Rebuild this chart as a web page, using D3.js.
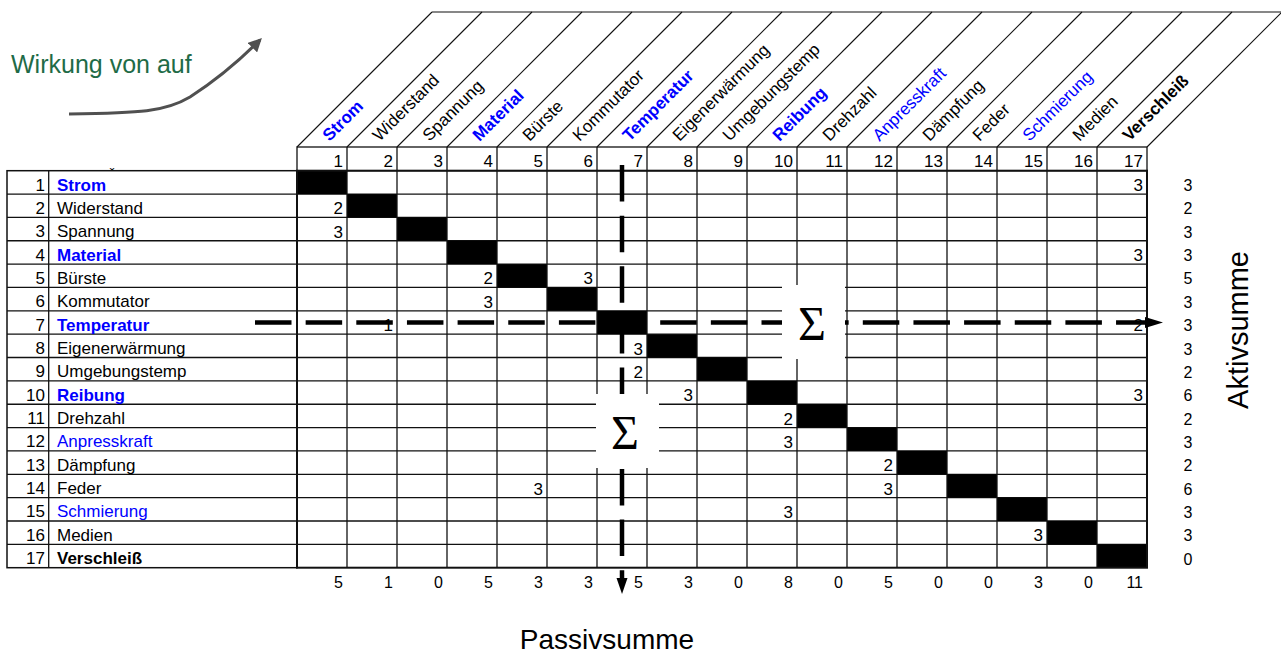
<!DOCTYPE html>
<html>
<head>
<meta charset="utf-8">
<script src="https://cdn.jsdelivr.net/npm/d3@7/dist/d3.min.js"></script>
<style>
  body { margin: 0; background: #fff; }
  svg { display: block; font-family: "Liberation Sans", Arial, sans-serif; }
</style>
</head>
<body>
<div id="chart"></div>
<script>
// Einflussmatrix: Wirkung von (Zeile) auf (Spalte)
var numbers = [1, 2, 3, 4, 5, 6, 7, 8, 9, 10, 11, 12, 13, 14, 15, 16, 17];
var factors = ["Strom", "Widerstand", "Spannung", "Material", "Bürste", "Kommutator",
               "Temperatur", "Eigenerwärmung", "Umgebungstemp", "Reibung", "Drehzahl",
               "Anpresskraft", "Dämpfung", "Feder", "Schmierung", "Medien", "Verschleiß"];
// [von, auf, Stärke]
var influences = [[1, 17, 3], [2, 1, 2], [3, 1, 3], [4, 17, 3], [5, 4, 2], [5, 6, 3],
                  [6, 4, 3], [7, 2, 1], [7, 17, 2], [8, 7, 3], [9, 7, 2], [10, 8, 3],
                  [10, 17, 3], [11, 10, 2], [12, 10, 3], [13, 12, 2], [14, 5, 3],
                  [14, 12, 3], [15, 10, 3], [16, 15, 3]];
var activeSums = [3, 2, 3, 3, 5, 3, 3, 3, 2, 6, 2, 3, 2, 6, 3, 3, 0];
var passiveSums = [5, 1, 0, 5, 3, 3, 5, 3, 0, 8, 0, 5, 0, 0, 3, 0, 11];

// Hervorhebung der Hauptgruppen
var groupStyle = {
    "Strom": "main", "Material": "main", "Temperatur": "main", "Reibung": "main",
    "Anpresskraft": "sub", "Schmierung": "sub", "Verschleiß": "target"
};

(function () {
    function labelFill(name) {
        var s = groupStyle[name];
        return (s === "main" || s === "sub") ? "#0000ff" : "#000";
    }
    function labelWeight(name) {
        var s = groupStyle[name];
        return (s === "main" || s === "target") ? "bold" : "normal";
    }

    var width = 1281, height = 655;
    var gridLeft = 297, gridRight = 1147, gridTop = 170.7, gridBottom = 567.7;
    var headTop = 147, slantTop = 12, slant = headTop - slantTop;
    var tableLeft = 7, numDivider = 48.7;
    var fontSize = 17;

    var x = d3.scaleBand().domain(numbers).range([gridLeft, gridRight]);
    var y = d3.scaleBand().domain(numbers).range([gridTop, gridBottom]);
    var bw = x.bandwidth(), bh = y.bandwidth();

    var svg = d3.select("#chart").append("svg")
        .attr("width", width)
        .attr("height", height);

    svg.append("rect").attr("width", width).attr("height", height).attr("fill", "#fff");

    // --- schräger Kopf ---
    var head = svg.append("g");
    var bounds = numbers.map(function (n) { return x(n); }).concat([gridRight]);
    head.selectAll("line.slant")
        .data(bounds)
        .enter().append("line")
        .attr("class", "slant")
        .attr("x1", function (d) { return d; })
        .attr("y1", headTop)
        .attr("x2", function (d) { return d + slant; })
        .attr("y2", slantTop)
        .attr("stroke", "#111")
        .attr("stroke-width", 1.1);
    head.append("line")
        .attr("x1", gridLeft + slant).attr("y1", slantTop)
        .attr("x2", gridRight + slant).attr("y2", slantTop)
        .attr("stroke", "#111").attr("stroke-width", 1.1);

    head.selectAll("text.colLabel")
        .data(numbers)
        .enter().append("text")
        .attr("class", "colLabel")
        .attr("transform", function (d) {
            return "translate(" + (x(d) + 32.5) + "," + 142 + ") rotate(-45)";
        })
        .attr("font-size", fontSize)
        .attr("fill", function (d) { return labelFill(factors[d - 1]); })
        .attr("font-weight", function (d) { return labelWeight(factors[d - 1]); })
        .text(function (d) { return factors[d - 1]; });

    // Nummernzeile
    head.append("rect")
        .attr("x", gridLeft).attr("y", headTop)
        .attr("width", gridRight - gridLeft).attr("height", gridTop - headTop)
        .attr("fill", "none").attr("stroke", "#111").attr("stroke-width", 1.3);
    head.selectAll("line.numDiv")
        .data(numbers.slice(1))
        .enter().append("line")
        .attr("x1", function (d) { return x(d); }).attr("x2", function (d) { return x(d); })
        .attr("y1", headTop).attr("y2", gridTop)
        .attr("stroke", "#111").attr("stroke-width", 1.3);
    head.selectAll("text.colNum")
        .data(numbers)
        .enter().append("text")
        .attr("x", function (d) { return x(d) + bw - 4; })
        .attr("y", 167)
        .attr("text-anchor", "end")
        .attr("font-size", fontSize)
        .text(function (d) { return d; });

    // --- linke Tabelle ---
    var tbl = svg.append("g");
    tbl.selectAll("line.rowLine")
        .data(numbers.slice(1))
        .enter().append("line")
        .attr("x1", tableLeft).attr("x2", gridRight)
        .attr("y1", function (d) { return y(d); }).attr("y2", function (d) { return y(d); })
        .attr("stroke", "#111").attr("stroke-width", 1.3);
    tbl.append("line")
        .attr("x1", numDivider).attr("x2", numDivider)
        .attr("y1", gridTop).attr("y2", gridBottom)
        .attr("stroke", "#111").attr("stroke-width", 1.3);
    tbl.append("rect")
        .attr("x", tableLeft).attr("y", gridTop)
        .attr("width", gridLeft - tableLeft).attr("height", gridBottom - gridTop)
        .attr("fill", "none").attr("stroke", "#111").attr("stroke-width", 1.5);
    tbl.selectAll("text.rowNum")
        .data(numbers)
        .enter().append("text")
        .attr("x", 45)
        .attr("y", function (d) { return y(d) + bh - 3.5; })
        .attr("text-anchor", "end")
        .attr("font-size", fontSize)
        .text(function (d) { return d; });
    tbl.selectAll("text.rowLabel")
        .data(numbers)
        .enter().append("text")
        .attr("x", 57)
        .attr("y", function (d) { return y(d) + bh - 3.5; })
        .attr("font-size", fontSize)
        .attr("fill", function (d) { return labelFill(factors[d - 1]); })
        .attr("font-weight", function (d) { return labelWeight(factors[d - 1]); })
        .text(function (d) { return factors[d - 1]; });
    // abgeschnittener Rest einer Überschrift
    tbl.append("text")
        .attr("x", 112).attr("y", 179)
        .attr("text-anchor", "middle")
        .attr("font-size", 14)
        .text("ˇ");

    // --- Matrix ---
    var mx = svg.append("g");
    mx.selectAll("rect.diag")
        .data(numbers)
        .enter().append("rect")
        .attr("x", function (d) { return x(d); })
        .attr("y", function (d) { return y(d); })
        .attr("width", bw).attr("height", bh)
        .attr("fill", "#000");
    mx.selectAll("line.colLine")
        .data(numbers.slice(1))
        .enter().append("line")
        .attr("x1", function (d) { return x(d); }).attr("x2", function (d) { return x(d); })
        .attr("y1", gridTop).attr("y2", gridBottom)
        .attr("stroke", "#111").attr("stroke-width", 1.3);
    mx.append("rect")
        .attr("x", gridLeft).attr("y", gridTop)
        .attr("width", gridRight - gridLeft).attr("height", gridBottom - gridTop)
        .attr("fill", "none").attr("stroke", "#111").attr("stroke-width", 2);
    mx.selectAll("text.cell")
        .data(influences)
        .enter().append("text")
        .attr("x", function (d) { return x(d[1]) + bw - 4; })
        .attr("y", function (d) { return y(d[0]) + bh - 3; })
        .attr("text-anchor", "end")
        .attr("font-size", fontSize)
        .text(function (d) { return d[2]; });

    // Summen
    svg.selectAll("text.active")
        .data(activeSums)
        .enter().append("text")
        .attr("x", 1188)
        .attr("y", function (d, i) { return y(numbers[i]) + bh - 3; })
        .attr("text-anchor", "middle")
        .attr("font-size", 16)
        .text(function (d) { return d; });
    svg.selectAll("text.passive")
        .data(passiveSums)
        .enter().append("text")
        .attr("x", function (d, i) { return x(numbers[i]) + bw - 4; })
        .attr("y", 588)
        .attr("text-anchor", "end")
        .attr("font-size", 16)
        .text(function (d) { return d; });

    // --- gestrichelte Pfeile ---
    var rowT = y(7) + bh / 2, colT = x(7) + bw / 2;
    var dash = "36.5 14.15";
    svg.append("line")
        .attr("x1", 255).attr("x2", 1149)
        .attr("y1", rowT).attr("y2", rowT)
        .attr("stroke", "#000").attr("stroke-width", 4.5)
        .attr("stroke-dasharray", dash);
    svg.append("path")
        .attr("d", "M1145," + (rowT - 5.5) + "L1163," + rowT + "L1145," + (rowT + 5.5) + "Z")
        .attr("fill", "#000");
    svg.append("line")
        .attr("x1", colT).attr("x2", colT)
        .attr("y1", 165).attr("y2", 581)
        .attr("stroke", "#000").attr("stroke-width", 4.5)
        .attr("stroke-dasharray", dash);
    svg.append("path")
        .attr("d", "M" + (colT - 5.5) + ",578L" + colT + ",594L" + (colT + 5.5) + ",578Z")
        .attr("fill", "#000");

    // Summenzeichen
    var sig = [{x: 782, y: 285, cx: 812, base: 340}, {x: 596, y: 394, cx: 625, base: 449}];
    svg.selectAll("rect.sigBox")
        .data(sig)
        .enter().append("rect")
        .attr("x", function (d) { return d.x; }).attr("y", function (d) { return d.y; })
        .attr("width", 63).attr("height", 74)
        .attr("fill", "#fff");
    svg.selectAll("text.sigma")
        .data(sig)
        .enter().append("text")
        .attr("x", function (d) { return d.cx; }).attr("y", function (d) { return d.base; })
        .attr("text-anchor", "middle")
        .style("font-family", "'Liberation Serif', 'DejaVu Serif', serif")
        .attr("font-size", 48)
        .text("Σ");

    // Achsentitel
    svg.append("text")
        .attr("transform", "translate(1248,330) rotate(-90)")
        .attr("text-anchor", "middle")
        .attr("font-size", 29)
        .text("Aktivsumme");
    svg.append("text")
        .attr("x", 607).attr("y", 649)
        .attr("text-anchor", "middle")
        .attr("font-size", 28)
        .text("Passivsumme");

    // "Wirkung von auf" mit Bogenpfeil
    svg.append("text")
        .attr("x", 11).attr("y", 73)
        .attr("font-size", 25)
        .attr("fill", "#1f6b47")
        .text("Wirkung von auf");
    svg.append("defs").append("marker")
        .attr("id", "tip")
        .attr("viewBox", "0 0 10 10")
        .attr("refX", 8).attr("refY", 5)
        .attr("markerWidth", 4.5).attr("markerHeight", 4.5)
        .attr("orient", "auto")
        .append("path").attr("d", "M0,0L10,5L0,10Z").attr("fill", "#505050");
    svg.append("path")
        .attr("d", "M69,114 C140,113 165,112 190,97 C212,83 238,62 260,40")
        .attr("fill", "none")
        .attr("stroke", "#505050")
        .attr("stroke-width", 3)
        .attr("marker-end", "url(#tip)");
})();
</script>
</body>
</html>
